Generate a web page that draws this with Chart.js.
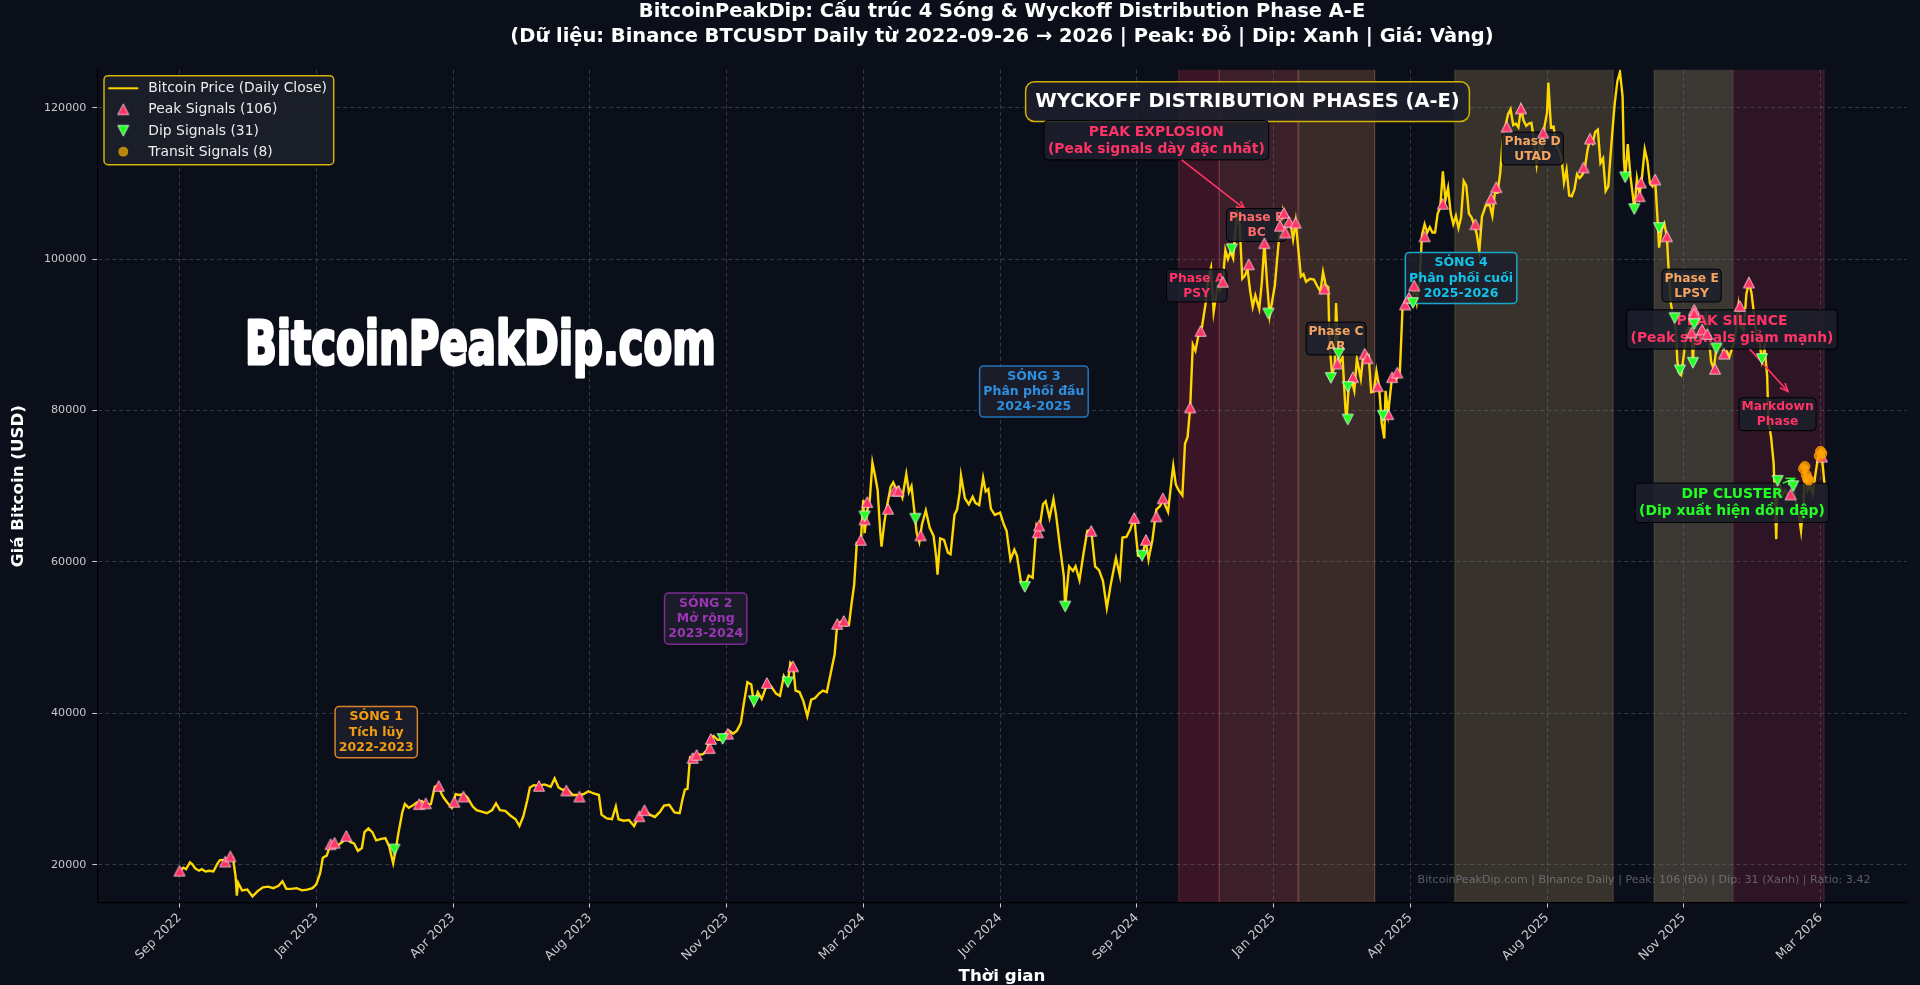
<!DOCTYPE html>
<html>
<head>
<meta charset="utf-8">
<script src="https://cdn.jsdelivr.net/npm/chart.js@4.4.1/dist/chart.umd.min.js"></script>
<style>
html,body{margin:0;padding:0;background:#0b0f1a;overflow:hidden}
#wrap{width:1920px;height:985px;position:relative}
</style>
</head>
<body>
<div id="wrap"><canvas id="c"></canvas></div>
<script>
// ---------------- DATA ----------------
// x = days since 2022-09-26 (first Binance daily close shown), y in thousands of USD
const priceDays = [
0,3,5,8,10,12,15,17,20,23,
26,29,31,33,36,39,41,43,44,45,
48,52,56,60,64,68,72,76,79,82,
86,90,94,98,102,105,108,110,113,116,
119,122,125,128,131,134,137,140,142,145,
148,151,155,158,161,164,166,168,171,173,
176,179,182,186,189,193,196,199,201,203,
206,209,212,215,218,221,225,228,232,236,
240,243,246,250,254,258,261,264,267,269,
272,276,280,285,288,291,294,298,302,306,
310,314,318,322,324,328,332,335,337,341,
345,349,353,357,361,365,369,372,376,380,
384,386,388,390,392,395,398,402,405,407,
410,413,416,419,422,425,428,431,433,436,
439,441,444,447,451,454,458,461,464,467,
469,471,473,476,479,482,485,488,491,494,
497,500,503,505,508,511,514,516,518,520,
523,525,526,528,530,532,534,536,538,539,
541,543,546,548,550,552,555,558,560,562,
564,566,568,570,573,576,579,581,582,584,
587,590,592,595,597,599,600,603,606,609,
611,614,617,619,621,623,626,630,633,635,
638,641,643,646,649,652,655,658,660,663,
665,668,671,673,676,679,680,683,686,688,
691,694,697,700,703,706,709,712,715,719,
722,724,727,730,733,736,739,742,744,747,
750,753,755,757,759,762,763,765,767,770,
772,774,776,778,780,783,785,788,790,792,
794,797,799,801,803,805,807,809,811,812,
814,816,818,820,822,824,826,829,831,833,
835,837,839,841,843,845,847,849,851,853,
855,857,859,861,863,865,868,871,873,876,
878,880,882,883,885,887,888,890,893,895,
896,898,900,902,904,907,909,911,913,915,
917,919,921,923,925,926,928,931,934,937,
939,941,943,946,948,950,952,954,956,958,
960,962,964,966,968,970,972,974,976,978,
980,982,984,986,988,990,992,994,996,998,
1000,1003,1006,1008,1010,1012,1014,1016,1018,1020,
1022,1024,1026,1028,1030,1032,1034,1036,1038,1040,
1042,1044,1046,1048,1050,1051,1053,1055,1057,1059,
1061,1063,1065,1067,1069,1071,1073,1075,1077,1079,
1081,1083,1085,1087,1089,1091,1093,1095,1097,1099,
1101,1102,1104,1106,1108,1109,1110,1112,1114,1116,
1117,1119,1121,1123,1125,1127,1129,1131,1133,1135,
1136,1138,1140,1142,1143,1145,1147,1149,1150,1151,
1153,1155,1157,1159,1161,1162,1164,1166,1168,1170,
1172,1174,1176,1178,1180,1182,1184,1186,1188,1190,
1193,1195,1197,1199,1201,1203,1205,1207,1209,1211,
1213,1215,1217,1219,1220,1222,1224,1226,1227,1229,
1231,1233,1235,1237,1239,1241,1243,1245,1247,1248,
1250,1252,1254,1256,1258,1260,1261,1263
];
const priceK = [
19.2,19.6,19.4,20.3,20.0,19.5,19.2,19.4,19.1,19.2,
19.1,20.1,20.6,20.6,20.5,21.2,20.9,18.5,15.9,17.6,
16.6,16.7,15.8,16.5,17.0,17.1,16.9,17.2,17.8,16.8,
16.8,16.9,16.6,16.7,16.9,17.4,18.9,20.9,21.2,22.7,
22.7,22.6,23.0,23.7,23.0,22.8,21.8,22.2,24.3,24.8,
24.3,23.2,23.4,23.5,22.4,20.2,22.0,24.1,26.9,28.0,
27.5,27.8,28.2,28.4,28.0,28.0,30.3,30.4,29.4,28.8,
28.1,27.5,29.3,29.2,29.3,28.9,27.7,27.2,27.0,26.8,
27.2,28.1,27.2,27.1,26.5,26.0,25.1,26.4,28.5,30.2,
30.5,30.4,30.6,30.3,31.4,30.2,29.9,29.9,29.2,29.2,
29.3,29.7,29.4,29.2,26.6,26.1,26.0,27.7,26.0,25.8,
25.9,25.1,26.5,27.2,26.6,26.3,27.0,27.8,27.9,26.9,
26.8,28.5,29.9,30.0,34.2,34.3,34.5,34.6,35.1,36.6,
37.0,36.5,36.5,37.3,37.7,37.3,37.7,38.7,41.0,44.1,
43.8,41.3,42.8,41.9,43.8,43.6,42.6,42.3,44.9,43.9,
46.7,46.4,43.0,42.8,41.6,39.6,41.8,42.0,42.6,43.0,
42.8,45.3,47.8,51.8,52.1,51.6,51.7,54.5,57.0,62.5,
62.4,68.2,63.8,66.8,68.2,73.1,71.4,69.5,64.0,62.0,
65.0,67.2,69.9,70.5,69.7,69.9,68.5,71.6,69.2,70.0,
67.0,63.8,62.6,64.9,66.8,64.5,63.4,60.6,58.3,63.1,
62.9,61.2,61.0,66.2,66.9,69.1,71.4,68.4,67.6,68.6,
67.8,67.5,71.1,69.3,69.6,67.0,66.2,66.5,64.9,64.1,
60.3,61.6,60.8,57.4,56.7,58.2,57.9,64.8,64.1,67.6,
68.0,65.8,68.3,66.2,62.0,58.1,54.0,59.4,58.8,59.4,
57.6,61.0,64.1,64.2,59.4,58.9,57.5,53.9,57.0,60.5,
58.2,63.2,63.3,64.3,65.8,60.8,60.7,62.8,60.3,62.9,
66.9,67.4,68.4,67.4,66.6,71.3,72.7,70.2,69.5,68.8,
75.6,76.5,80.4,88.7,87.9,90.5,91.0,94.3,97.7,98.9,
93.0,96.4,95.9,97.1,101.2,100.0,101.0,100.1,104.5,106.1,
104.4,97.4,97.8,98.7,95.8,93.7,95.2,93.4,96.9,102.1,
96.9,92.5,94.5,96.5,100.5,104.1,106.2,103.6,104.7,104.7,
102.6,105.0,101.3,97.7,98.0,97.0,97.4,97.3,96.6,95.7,
98.3,96.6,96.3,88.7,84.7,86.1,94.2,86.1,87.0,80.7,
78.6,83.9,84.0,82.6,86.8,84.2,87.5,86.9,87.2,82.4,
82.5,85.2,83.2,78.4,76.3,82.6,79.6,84.5,84.0,85.1,
93.4,93.7,94.7,94.2,96.5,94.3,96.8,103.2,104.6,103.5,
104.2,103.5,103.5,106.0,106.8,111.6,107.8,109.4,106.1,104.6,
105.7,104.1,105.5,110.3,109.7,106.0,105.5,104.6,103.3,101.0,
105.6,107.1,107.1,105.7,108.9,108.8,111.3,115.9,117.5,119.1,
119.8,117.7,117.9,117.4,119.9,118.3,117.6,117.9,118.0,115.7,
112.5,115.0,114.1,117.5,119.3,123.3,117.4,117.5,115.0,114.3,
113.5,110.1,111.8,108.4,108.3,109.2,111.2,110.7,111.1,112.0,
114.3,115.9,115.3,116.8,117.1,112.7,113.3,109.0,109.6,114.3,
118.6,120.6,123.5,124.7,121.5,113.2,110.7,115.2,111.0,108.2,
106.5,110.6,108.4,111.0,114.5,113.0,110.0,109.6,110.5,104.8,
101.5,103.9,104.7,103.0,99.7,94.2,92.2,90.5,86.6,85.1,
84.7,87.3,90.5,91.0,90.4,86.3,93.5,89.4,90.4,90.7,
92.5,89.9,86.4,85.5,88.2,88.3,88.6,87.4,87.8,87.1,
88.7,90.5,93.8,91.0,90.6,95.3,97.0,95.5,92.6,89.5,
89.2,86.6,88.3,84.6,78.6,76.5,73.0,63.0,70.5,70.1,
68.8,69.5,68.6,68.9,70.2,68.0,66.6,64.1,68.0,72.6,
69.4,70.1,69.0,71.5,73.7,74.6,73.9,70.3
];

const peakDays = [0,35,39,116,119,128,184,189,199,211,218,276,297,307,353,357,394,397,407,408,421,451,471,505,510,523,526,528,544,549,552,569,
659,660,700,733,742,750,755,776,784,801,821,833,845,848,849,852,857,879,889,901,910,912,920,928,931,935,941,944,948,956,970,995,1007,1011,1019,1030,1047,1078,1083,1121,1122,1133,1142,1161,1163,1163,1169,1173,1179,1186,1198,1205,1237,1261];
const peakK = [19.2,20.4,21.1,22.7,22.9,23.8,28.0,28.1,30.4,28.3,29.0,30.4,29.8,29.0,26.4,27.2,34.1,34.5,35.4,36.6,37.3,44.0,46.2,51.8,52.2,62.9,65.6,67.9,67.0,69.4,69.4,63.5,
63.9,64.8,64.1,65.8,62.9,66.0,68.4,80.4,90.5,97.0,99.3,102.1,104.4,106.1,103.5,104.9,104.8,96.1,86.2,84.4,87.5,86.9,83.2,79.5,84.4,85.0,94.0,94.9,96.5,103.0,107.3,104.6,108.0,109.5,117.5,119.9,116.7,112.1,115.9,108.3,110.1,110.5,103.0,90.3,93.3,92.8,90.7,90.1,85.5,87.5,93.8,96.9,68.9,73.9];

const dipDays = [165,417,441,467,526,565,649,680,739,808,836,884,890,897,897,924,947,1110,1117,1136,1148,1152,1162,1163,1180,1215,1227,1239];
const dipK = [22.0,36.6,41.6,44.1,66.0,65.7,56.7,54.1,60.8,101.3,92.8,84.3,87.5,78.8,83.1,79.3,94.2,110.8,106.6,104.1,92.2,85.3,86.3,91.4,88.2,86.8,70.7,70.0];

const transitDays = [1247,1248,1249,1250,1251,1259,1260,1261];
const transitK = [72.3,72.6,71.5,71.0,70.8,74.0,74.6,74.3];

const xTickDays = [0,105,210,315,420,525,630,735,840,945,1050,1155,1260];
const yTickValues = [20000,40000,60000,80000,100000,120000];
const MONTHS = ['Jan','Feb','Mar','Apr','May','Jun','Jul','Aug','Sep','Oct','Nov','Dec'];

const seriesLabels = ['Bitcoin Price (Daily Close)','Peak Signals (106)','Dip Signals (31)','Transit Signals (8)'];

// Wyckoff phase spans (days)
const bandStart = [767,798,859,979,1132,1193];
const bandEnd   = [798,859,918,1101,1193,1263];

// ---------------- STYLE ----------------
const BG = '#0b0f1a';
const FONT = '"DejaVu Sans", "Noto Sans", sans-serif';
const bandFill = ['#3a1526','#3b2029','#3a2b29','#38322d','#3b3833','#2e1526'];
const bandEdge = ['#5a2035','#7a3848','#6a4a44','#4a423a','#4a463e','#4a2035'];
const T0 = Date.UTC(2022,8,26);
function dayLabel(d){const dt=new Date(T0+d*86400000);return MONTHS[dt.getUTCMonth()]+' '+dt.getUTCFullYear();}

function triMarker(fill, edge, down){
  const s=14,c=document.createElement('canvas');c.width=s;c.height=s;
  const g=c.getContext('2d');const w=11,h=10.5,cx=s/2,cy=s/2;
  g.beginPath();
  if(!down){g.moveTo(cx,cy-h/2);g.lineTo(cx+w/2,cy+h/2);g.lineTo(cx-w/2,cy+h/2);}
  else{g.moveTo(cx,cy+h/2);g.lineTo(cx+w/2,cy-h/2);g.lineTo(cx-w/2,cy-h/2);}
  g.closePath();g.fillStyle=fill;g.fill();g.lineWidth=0.9;g.strokeStyle=edge;g.stroke();
  return c;
}
const peakMarker = triMarker('#ff3366','rgba(255,220,230,0.9)',false);
const dipMarker = triMarker('#22ff22','rgba(235,255,235,0.9)',true);

// annotations (data coordinates)
const annotations = [
  {x:151,y:37500,lines:['SÓNG 1','Tích lũy','2022-2023'],size:12.5,color:'#f39c12',edge:'#d9822b',pad:0.3,lw:1.5},
  {x:404,y:52500,lines:['SÓNG 2','Mở rộng','2023-2024'],size:12.5,color:'#9b35b5',edge:'#7d2b93',pad:0.3,lw:1.5},
  {x:656,y:82500,lines:['SÓNG 3','Phân phối đầu','2024-2025'],size:12.5,color:'#2e8fde',edge:'#2474b8',pad:0.3,lw:1.5},
  {x:984,y:97500,lines:['SÓNG 4','Phân phối cuối','2025-2026'],size:12.5,color:'#12c2ea',edge:'#1aa6c8',pad:0.3,lw:1.5},
  {x:820,y:120800,lines:['WYCKOFF DISTRIBUTION PHASES (A-E)'],size:19.44,color:'#ffffff',edge:'#d4b106',pad:0.5,lw:1.5,radius:9},
  {x:750,y:115700,lines:['PEAK EXPLOSION','(Peak signals dày đặc nhất)'],size:13.9,color:'#ff3366',edge:'#000000',pad:0.28,lw:1,arrow:[818,106600]},
  {x:781,y:96500,lines:['Phase A','PSY'],size:12.3,color:'#ff3366',edge:'#000000',pad:0.2,lw:1},
  {x:827,y:104500,lines:['Phase B','BC'],size:12.3,color:'#ff6b6b',edge:'#000000',pad:0.2,lw:1},
  {x:888,y:89500,lines:['Phase C','AR'],size:12.3,color:'#f4a460',edge:'#000000',pad:0.2,lw:1},
  {x:1039,y:114600,lines:['Phase D','UTAD'],size:12.3,color:'#f4a460',edge:'#000000',pad:0.2,lw:1},
  {x:1161,y:96500,lines:['Phase E','LPSY'],size:12.3,color:'#f4a460',edge:'#000000',pad:0.2,lw:1},
  {x:1192,y:90700,lines:['PEAK SILENCE','(Peak signals giảm mạnh)'],size:13.9,color:'#ff3366',edge:'#000000',pad:0.28,lw:1,arrow:[1235,82500]},
  {x:1227,y:79500,lines:['Markdown','Phase'],size:12.3,color:'#ff3366',edge:'#000000',pad:0.2,lw:1},
  {x:1192,y:67800,lines:['DIP CLUSTER','(Dip xuất hiện dồn dập)'],size:13.9,color:'#22ff22',edge:'#000000',pad:0.28,lw:1,arrow:[1240,71000]}
];

function boxText(ctx, cx, cy, a){
  const fs=a.size; ctx.font='bold '+fs+'px '+FONT;
  const lh=fs*1.22; let w=0;
  a.lines.forEach(l=>{w=Math.max(w,ctx.measureText(l).width);});
  const h=fs*1.05+lh*(a.lines.length-1);
  const pad=a.pad*fs;
  const r={x:cx-w/2-pad,y:cy-h/2-pad,w:w+2*pad,h:h+2*pad};
  ctx.beginPath();ctx.roundRect(r.x,r.y,r.w,r.h,a.radius||4);
  ctx.fillStyle='rgba(29,32,43,0.88)';ctx.fill();
  ctx.lineWidth=a.lw;ctx.strokeStyle=a.edge;ctx.stroke();
  ctx.fillStyle=a.color;ctx.textAlign='center';ctx.textBaseline='middle';
  a.lines.forEach((l,i)=>ctx.fillText(l,cx,cy-h/2+fs*0.55+i*lh));
  return r;
}
function arrow(ctx, x0,y0,x1,y1,color){
  ctx.strokeStyle=color;ctx.lineWidth=1.6;
  ctx.beginPath();ctx.moveTo(x0,y0);ctx.lineTo(x1,y1);ctx.stroke();
  const ang=Math.atan2(y1-y0,x1-x0),L=9,sp=0.4;
  ctx.beginPath();
  ctx.moveTo(x1-L*Math.cos(ang-sp),y1-L*Math.sin(ang-sp));
  ctx.lineTo(x1,y1);
  ctx.lineTo(x1-L*Math.cos(ang+sp),y1-L*Math.sin(ang+sp));
  ctx.stroke();
}
function exitPoint(r,cx,cy,tx,ty){
  const dx=tx-cx,dy=ty-cy;let t=1;
  if(dx>0)t=Math.min(t,(r.x+r.w-cx)/dx);if(dx<0)t=Math.min(t,(r.x-cx)/dx);
  if(dy>0)t=Math.min(t,(r.y+r.h-cy)/dy);if(dy<0)t=Math.min(t,(r.y-cy)/dy);
  return [cx+dx*t,cy+dy*t];
}

const custom = {
  id:'custom',
  beforeDraw(chart){
    const {ctx,chartArea:a,scales:{x}}=chart;
    ctx.save();
    ctx.fillStyle=BG;ctx.fillRect(0,0,chart.width,chart.height);
    for(let i=0;i<bandStart.length;i++){
      const x0=x.getPixelForValue(bandStart[i]),x1=x.getPixelForValue(bandEnd[i]);
      ctx.fillStyle=bandFill[i];ctx.fillRect(x0,a.top,x1-x0,a.bottom-a.top);
      ctx.strokeStyle=bandEdge[i];ctx.lineWidth=1;
      ctx.beginPath();ctx.moveTo(x0+0.5,a.top);ctx.lineTo(x0+0.5,a.bottom);ctx.moveTo(x1-0.5,a.top);ctx.lineTo(x1-0.5,a.bottom);ctx.stroke();
    }
    ctx.restore();
  },
  afterDatasetDraw(chart,args){
    if(args.index!==0)return;
    const {ctx,chartArea:a,scales:{x,y}}=chart;
    ctx.save();
    // big watermark
    const WM='BitcoinPeakDip.com';
    ctx.font='bold 60px '+FONT;
    const tw=ctx.measureText(WM).width;
    const W=a.right-a.left,H=a.bottom-a.top;
    ctx.translate(a.left+0.0816*W,a.top+0.353*H);
    ctx.scale(0.2603*W/tw,1);
    ctx.fillStyle='#ffffff';ctx.textBaseline='alphabetic';ctx.textAlign='left';
    ctx.lineJoin='round';ctx.lineWidth=3.2;ctx.strokeStyle='#ffffff';ctx.strokeText(WM,0,0);ctx.fillText(WM,0,0);
    ctx.restore();
    ctx.save();
    annotations.forEach(an=>{
      const cx=x.getPixelForValue(an.x),cy=y.getPixelForValue(an.y);
      const r=boxText(ctx,cx,cy,an);
      if(an.arrow){
        const tx=x.getPixelForValue(an.arrow[0]),ty=y.getPixelForValue(an.arrow[1]);
        const p=exitPoint(r,cx,cy,tx,ty);
        arrow(ctx,p[0],p[1],tx,ty,an.color);
      }
    });
    ctx.restore();
  },
  afterDraw(chart){
    const {ctx,chartArea:a}=chart;
    ctx.save();
    const cxm=(a.left+a.right)/2;
    // title
    ctx.fillStyle='#ffffff';ctx.textAlign='center';ctx.textBaseline='middle';
    ctx.font='bold 19.44px '+FONT;
    ctx.fillText('BitcoinPeakDip: Cấu trúc 4 Sóng & Wyckoff Distribution Phase A-E',cxm,12);
    ctx.fillText('(Dữ liệu: Binance BTCUSDT Daily từ 2022-09-26 → 2026 | Peak: Đỏ | Dip: Xanh | Giá: Vàng)',cxm,36.5);
    // axis titles
    ctx.font='bold 16.67px '+FONT;
    ctx.fillText('Thời gian',cxm,977);
    ctx.save();ctx.translate(18.5,(a.top+a.bottom)/2);ctx.rotate(-Math.PI/2);
    ctx.fillText('Giá Bitcoin (USD)',0,0);ctx.restore();
    // footer watermark
    ctx.font='11.1px '+FONT;ctx.textAlign='right';ctx.textBaseline='bottom';
    ctx.fillStyle='rgba(150,155,165,0.55)';
    ctx.fillText('BitcoinPeakDip.com | Binance Daily | Peak: 106 (Đỏ) | Dip: 31 (Xanh) | Ratio: 3.42',a.left+0.98*(a.right-a.left),a.bottom-0.02*(a.bottom-a.top));
    // legend
    const lx=a.left+6.7,ly=a.top+5.9,lw=229.7,lh=89;
    ctx.beginPath();ctx.roundRect(lx,ly,lw,lh,4);
    ctx.fillStyle='rgba(28,31,42,0.92)';ctx.fill();
    ctx.lineWidth=1.5;ctx.strokeStyle='#d4b106';ctx.stroke();
    ctx.font='13.9px '+FONT;ctx.textAlign='left';ctx.textBaseline='middle';
    const rows=[ly+12.6,ly+33.6,ly+55,ly+76];
    const ds=chart.data.datasets;
    ctx.strokeStyle=ds[0].borderColor;ctx.lineWidth=2;
    ctx.beginPath();ctx.moveTo(lx+4.3,rows[0]);ctx.lineTo(lx+34.3,rows[0]);ctx.stroke();
    ctx.drawImage(peakMarker,lx+19.3-7,rows[1]-7);
    ctx.drawImage(dipMarker,lx+19.3-7,rows[2]-7);
    ctx.beginPath();ctx.arc(lx+19.3,rows[3],5,0,Math.PI*2);ctx.fillStyle='rgba(184,134,11,1)';ctx.fill();
    ctx.fillStyle='#ececec';
    for(let i=0;i<4;i++)ctx.fillText(ds[i].label,lx+44.3,rows[i]+0.5);
    ctx.restore();
  }
};

const gridColor='rgba(120,125,140,0.38)';

new Chart(document.getElementById('c'),{
  type:'scatter',
  data:{datasets:[
    {label:seriesLabels[0],data:priceDays.map((d,i)=>({x:d,y:priceK[i]*1000})),showLine:true,borderColor:'#FFD700',borderWidth:2.4,pointRadius:0,tension:0,order:4},
    {label:seriesLabels[1],data:peakDays.map((d,i)=>({x:d,y:peakK[i]*1000})),pointStyle:peakMarker,pointRadius:6,order:3},
    {label:seriesLabels[2],data:dipDays.map((d,i)=>({x:d,y:dipK[i]*1000})),pointStyle:dipMarker,pointRadius:6,order:2},
    {label:seriesLabels[3],data:transitDays.map((d,i)=>({x:d,y:transitK[i]*1000})),pointStyle:'circle',pointRadius:5,backgroundColor:'rgba(255,165,0,0.75)',borderColor:'rgba(255,140,0,0.9)',borderWidth:1,order:1}
  ]},
  options:{
    responsive:true,maintainAspectRatio:false,animation:false,devicePixelRatio:1,
    layout:{padding:{top:69.8,right:13.3,left:0,bottom:0}},
    plugins:{legend:{display:false},tooltip:{enabled:false},title:{display:false}},
    scales:{
      x:{type:'linear',min:-63.15,max:1326.15,
        afterBuildTicks:s=>{s.ticks=xTickDays.map(v=>({value:v}));},
        afterFit:s=>{s.height=82.5;},
        ticks:{callback:v=>dayLabel(v),color:'#c8c8c8',font:{family:'DejaVu Sans',size:12.5},maxRotation:45,minRotation:45,autoSkip:false,padding:3},
        grid:{color:gridColor,lineWidth:1,tickColor:'#d0d0d0',tickLength:5,tickWidth:1,tickBorderDash:[]},
        border:{display:true,color:'#000000',width:1.2,dash:[4,3]}
      },
      y:{type:'linear',min:15000,max:125000,
        afterBuildTicks:s=>{s.ticks=yTickValues.map(v=>({value:v}));},
        afterFit:s=>{s.width=97.3;},
        ticks:{callback:v=>String(v),color:'#c8c8c8',font:{family:'DejaVu Sans',size:11.1},padding:6},
        grid:{color:gridColor,lineWidth:1,tickColor:'#d0d0d0',tickLength:5,tickWidth:1,tickBorderDash:[]},
        border:{display:true,color:'#000000',width:1.2,dash:[4,3]}
      }
    }
  },
  plugins:[custom]
});
</script>
</body>
</html>
